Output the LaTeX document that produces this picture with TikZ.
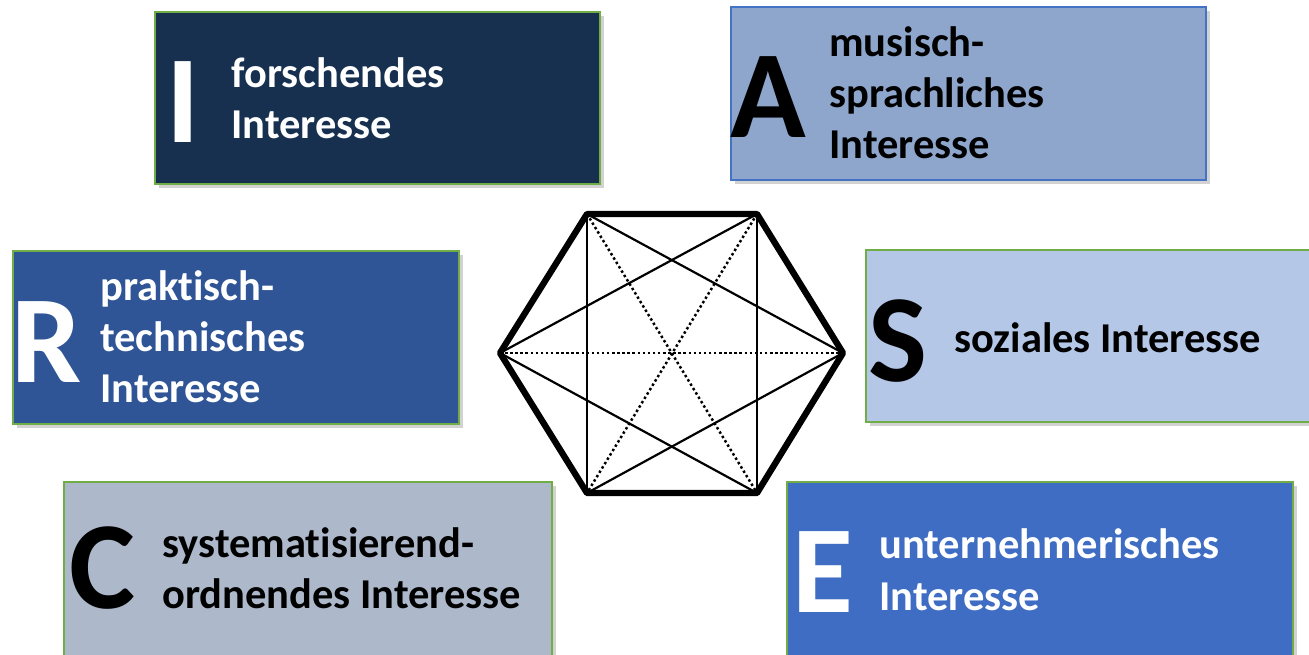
\documentclass[tikz,border=0pt]{standalone}
\usepackage{fontspec}
\setmainfont{Carlito}[Ligatures=NoCommon]
\usetikzlibrary{shadows}
\definecolor{navyI}{HTML}{17304F}
\definecolor{blueA}{HTML}{8FA6CC}
\definecolor{blueAb}{HTML}{4472C4}
\definecolor{blueR}{HTML}{2F5597}
\definecolor{blueS}{HTML}{B4C7E7}
\definecolor{grayC}{HTML}{ADB9CA}
\definecolor{blueE}{HTML}{3E6DC3}
\definecolor{grn}{HTML}{70AD47}
\tikzset{
  box/.style={rectangle, draw=grn, line width=1.2pt, inner sep=0pt,
    drop shadow={opacity=0.35, shadow xshift=2.5pt, shadow yshift=-2.5pt}},
  txt/.style={inner sep=0pt, anchor=base west, font=\fontsize{24.2}{29}\selectfont\bfseries},
  big/.style={inner sep=0pt, anchor=base west, font=\fontsize{71}{80}\selectfont\bfseries},
  thickedge/.style={line width=3.6pt, line join=round, line cap=round},
  thinline/.style={line width=1.25pt},
  dotline/.style={line width=1.4pt, dash pattern=on 1.4pt off 1.5pt}
}
\begin{document}
\begin{tikzpicture}[x=0.02cm,y=-0.02cm]
\path[use as bounding box, clip] (0,0) rectangle (1309,654);
\fill[white] (0,0) rectangle (1309,654);

% boxes
\node[box, fill=navyI, minimum width=8.90cm, minimum height=3.44cm] (boxI) at (377.5,98) {};
\node[box, fill=blueA, draw=blueAb, minimum width=9.50cm, minimum height=3.46cm] (boxA) at (968.5,93.5) {};
\node[box, fill=blueR, minimum width=8.92cm, minimum height=3.46cm] (boxR) at (236,337.5) {};
\node[box, fill=blueS, minimum width=8.98cm, minimum height=3.44cm] (boxS) at (1090.5,336) {};
\node[box, fill=grayC, minimum width=9.76cm, minimum height=3.76cm] (boxC) at (308,576) {};
\node[box, fill=blueE, minimum width=10.12cm, minimum height=3.76cm] (boxE) at (1040,576) {};

% I
\node[big, text=white] (lI) at (166,142) {I};
\node[txt, text=white] (tI1) at (231,87) {forschendes};
\node[txt, text=white] (tI2) at (231,138) {Interesse};
% A
\node[big, text=black] (lA) at (730,137) {A};
\node[txt, text=black] (tA1) at (829,56) {musisch-};
\node[txt, text=black] (tA2) at (829,107) {sprachliches};
\node[txt, text=black] (tA3) at (829,158) {Interesse};
% R
\node[big, text=white] (lR) at (11,382) {R};
\node[txt, text=white] (tR1) at (100,300) {praktisch-};
\node[txt, text=white] (tR2) at (100,351) {technisches};
\node[txt, text=white] (tR3) at (100,402) {Interesse};
% S
\node[big, text=black] (lS) at (868,381) {S};
\node[txt, text=black] (tS1) at (954,352) {soziales Interesse};
% C
\node[big, text=black] (lC) at (69,608) {C};
\node[txt, text=black] (tC1) at (162,557) {systematisierend-};
\node[txt, text=black] (tC2) at (162,608) {ordnendes Interesse};
% E
\node[big, text=white] (lE) at (792,612) {E};
\node[txt, text=white] (tE1) at (879,558) {unternehmerisches};
\node[txt, text=white] (tE2) at (879,610) {Interesse};

% hexagon
\coordinate (L) at (500,353);
\coordinate (Rv) at (843,353);
\coordinate (TL) at (587,214);
\coordinate (TR) at (757,214);
\coordinate (BL) at (587,493);
\coordinate (BR) at (757,493);
\fill[white] (L) -- (TL) -- (TR) -- (Rv) -- (BR) -- (BL) -- cycle;
\draw[dotline] (TL) -- (BR);
\draw[dotline] (TR) -- (BL);
\draw[dotline] (L) -- (Rv);
\draw[thinline] (TL) -- (BL);
\draw[thinline] (TR) -- (BR);
\draw[thinline] (TL) -- (Rv);
\draw[thinline] (TR) -- (L);
\draw[thinline] (BL) -- (Rv);
\draw[thinline] (BR) -- (L);
\draw[thickedge] (L) -- (TL) -- (TR) -- (Rv) -- (BR) -- (BL) -- cycle;
\end{tikzpicture}
\end{document}
